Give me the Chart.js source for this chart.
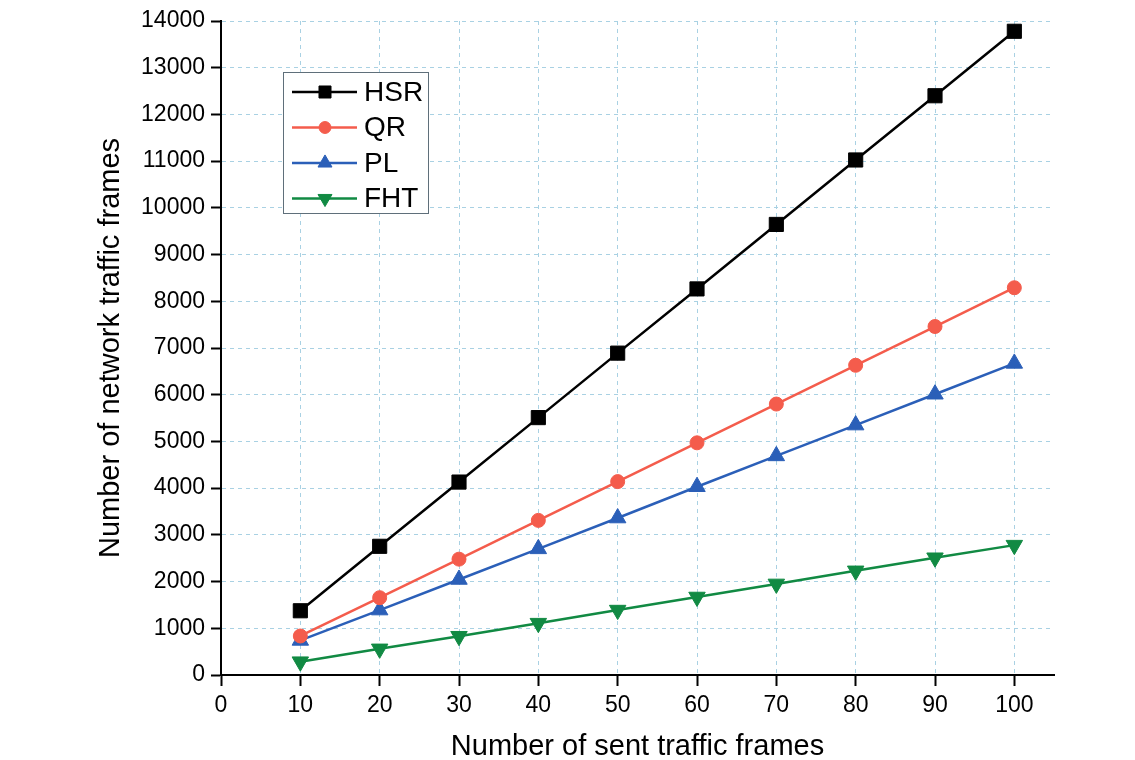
<!DOCTYPE html>
<html>
<head>
<meta charset="utf-8">
<title>Network traffic frames</title>
<script src="https://cdn.jsdelivr.net/npm/chart.js@4/dist/chart.umd.min.js"></script>
<style>
  html, body { margin: 0; padding: 0; background: #fff; }
  #wrap { width: 1135px; height: 760px; position: relative; }
</style>
</head>
<body>
<div id="wrap"><canvas id="chart"></canvas></div>
<script>
  // -- data --
  var sentFrames = [10, 20, 30, 40, 50, 60, 70, 80, 90, 100];
  var hsr = [1375, 2755, 4130, 5510, 6890, 8265, 9645, 11025, 12400, 13780];
  var qr = [835, 1655, 2480, 3310, 4140, 4970, 5800, 6630, 7460, 8290];
  var pl = [740, 1390, 2045, 2700, 3360, 4030, 4690, 5350, 6010, 6670];
  var fht = [285, 560, 830, 1110, 1390, 1670, 1950, 2230, 2510, 2780];
  var xTicks = [0, 10, 20, 30, 40, 50, 60, 70, 80, 90, 100];

  var FONT = '"Liberation Sans", Arial, Helvetica, sans-serif';

  function pts(values) {
    return sentFrames.map(function (x, i) { return { x: x, y: values[i] }; });
  }

  function series(label, values, color, style, radius, rotation) {
    return {
      label: label,
      data: pts(values),
      borderColor: color,
      backgroundColor: color,
      pointBackgroundColor: color,
      pointBorderColor: color,
      borderWidth: 2.5,
      pointStyle: style,
      pointRadius: radius,
      pointRotation: rotation || 0,
      pointBorderWidth: 1,
      tension: 0
    };
  }

  // legend drawn inside the plot, as in the figure
  var boxLegend = {
    id: 'boxLegend',
    afterDraw: function (chart) {
      var ctx = chart.ctx;
      var x0 = 283, y0 = 72, w = 145, h = 141;
      ctx.save();
      ctx.fillStyle = '#fff';
      ctx.fillRect(x0, y0, w, h);
      ctx.strokeStyle = '#5f6f7a';
      ctx.lineWidth = 1;
      ctx.strokeRect(x0 + 0.5, y0 + 0.5, w, h);
      chart.data.datasets.forEach(function (ds, i) {
        var y = 92 + i * 35.5;
        ctx.strokeStyle = ds.borderColor;
        ctx.lineWidth = 2.5;
        ctx.beginPath();
        ctx.moveTo(292, y);
        ctx.lineTo(357, y);
        ctx.stroke();
        ctx.fillStyle = ds.backgroundColor;
        ctx.strokeStyle = ds.borderColor;
        ctx.lineWidth = 1;
        Chart.helpers.drawPoint(ctx, {
          pointStyle: ds.pointStyle,
          rotation: ds.pointRotation,
          radius: ds.pointRadius * 0.85,
          borderWidth: 1
        }, 325, y);
        ctx.fillStyle = '#000';
        ctx.font = '28px ' + FONT;
        ctx.textBaseline = 'middle';
        ctx.textAlign = 'left';
        ctx.fillText(ds.label, 364, y + 1);
      });
      ctx.restore();
    }
  };

  var gridColor = '#a9d1e3';

  new Chart(document.getElementById('chart').getContext('2d'), {
    type: 'line',
    data: {
      datasets: [
        series('HSR', hsr, '#000000', 'rect', 10),
        series('QR', qr, '#f45c4c', 'circle', 7),
        series('PL', pl, '#2b5fb8', 'triangle', 9.5),
        series('FHT', fht, '#118a43', 'triangle', 9.5, 180)
      ]
    },
    options: {
      responsive: true,
      maintainAspectRatio: false,
      animation: false,
      layout: { padding: { left: 0, top: 21, right: 81, bottom: 0 } },
      plugins: {
        legend: { display: false },
        tooltip: { enabled: false }
      },
      scales: {
        x: {
          type: 'linear',
          min: 0,
          max: 105,
          afterBuildTicks: function (scale) {
            scale.ticks = xTicks.map(function (v) { return { value: v }; });
          },
          afterFit: function (scale) { scale.height = 85; },
          grid: {
            color: gridColor,
            lineWidth: 1,
            tickColor: '#000',
            tickWidth: 2,
            tickLength: 11,
            tickBorderDash: []
          },
          border: { display: true, color: '#000', width: 2, dash: [4, 4] },
          ticks: {
            color: '#000',
            font: { family: FONT, size: 23 },
            padding: 6,
            maxRotation: 0,
            callback: function (v) { return String(v); }
          },
          title: {
            display: true,
            text: 'Number of sent traffic frames',
            color: '#000',
            font: { family: FONT, size: 29 },
            padding: { top: 0, bottom: -4 }
          }
        },
        y: {
          min: 0,
          max: 14000,
          afterFit: function (scale) { scale.width = 221; },
          grid: {
            color: gridColor,
            lineWidth: 1,
            tickColor: '#000',
            tickWidth: 2,
            tickLength: 10,
            tickBorderDash: []
          },
          border: { display: true, color: '#000', width: 2, dash: [4, 4] },
          ticks: {
            stepSize: 1000,
            color: '#000',
            font: { family: FONT, size: 23 },
            padding: 6,
            callback: function (v) { return String(v); }
          },
          title: {
            display: true,
            text: 'Number of network traffic frames',
            color: '#000',
            font: { family: FONT, size: 29 },
            padding: { top: 94, bottom: 0 }
          }
        }
      }
    },
    plugins: [boxLegend]
  });
</script>
</body>
</html>
